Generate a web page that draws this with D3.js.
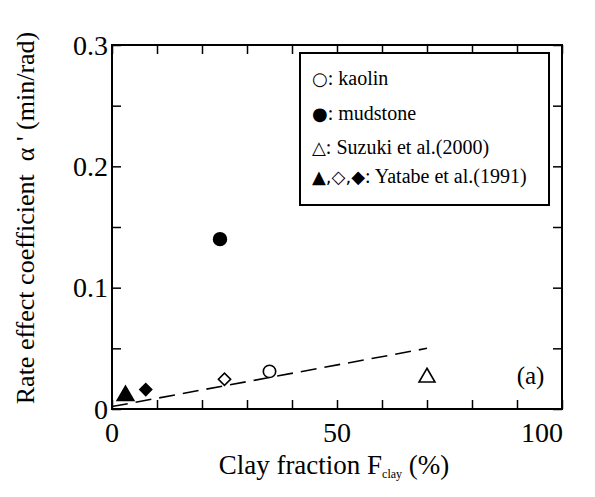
<!DOCTYPE html>
<html>
<head>
<meta charset="utf-8">
<script src="https://cdn.jsdelivr.net/npm/d3@7"></script>
<style>
  body { margin: 0; background: #fff; }
</style>
</head>
<body>
<svg id="chart" width="595" height="497" font-family="Liberation Serif"></svg>
<script>
// data
var xTicks = [0, 50, 100]
var yTicks = [0, 0.1, 0.2, 0.3]
var xMinor = d3.range(0, 101, 10)
var yMinor = [0, 0.05, 0.1, 0.15, 0.2, 0.25, 0.3]

var kaolin = [{x: 35, y: 0.031}]
var mudstone = [{x: 24, y: 0.14}]
var suzuki = [{x: 70, y: 0.026}]
var yatabeTri = [{x: 3, y: 0.011}]
var yatabeOpenDia = [{x: 25, y: 0.0245}]
var yatabeDia = [{x: 7.5, y: 0.016}]
var trend = [{x: 0, y: 0.002}, {x: 70, y: 0.05}]

var legendItems = [
    {sym: "○", label: ": kaolin"},
    {sym: "●", label: ": mudstone"},
    {sym: "△", label: ": Suzuki et al.(2000)"},
    {sym: "▲,◇,◆", label: ": Yatabe et al.(1991)"}
]

var margin = {left: 112, top: 45, right: 33, bottom: 88}
var width = 595 - margin.left - margin.right,
    height = 497 - margin.top - margin.bottom

var svg = d3.select("#chart")
var g = svg.append("g").attr("transform", "translate(" + margin.left + "," + margin.top + ")")

var x = d3.scaleLinear().domain([0, 100]).range([0, width])
var y = d3.scaleLinear().domain([0, 0.3]).range([height, 0])

// frame
g.append("rect")
    .attr("width", width).attr("height", height)
    .attr("fill", "none").attr("stroke", "#000").attr("stroke-width", 2)

// inward ticks on all four sides
var tk = 9
g.append("g").attr("transform", "translate(0," + height + ")")
    .call(d3.axisTop(x).tickValues(xMinor).tickSize(tk).tickFormat(""))
g.append("g")
    .call(d3.axisBottom(x).tickValues(xMinor).tickSize(tk).tickFormat(""))
g.append("g")
    .call(d3.axisRight(y).tickValues(yMinor).tickSize(tk).tickFormat(""))
g.append("g").attr("transform", "translate(" + width + ",0)")
    .call(d3.axisLeft(y).tickValues(yMinor).tickSize(tk).tickFormat(""))
g.selectAll(".domain").remove()
g.selectAll(".tick line").attr("stroke", "#000").attr("stroke-width", 1.5)

// tick labels (the last x label is pulled in to stay inside the page)
g.selectAll(".xlab").data(xTicks).enter().append("text")
    .attr("x", d => x(d)).attr("y", height + 33)
    .attr("dx", d => d === 100 ? -20 : 0)
    .attr("text-anchor", "middle").attr("font-size", 28)
    .text(d => d)
g.selectAll(".ylab").data(yTicks).enter().append("text")
    .attr("x", -4).attr("y", d => y(d)).attr("dy", "0.35em")
    .attr("text-anchor", "end").attr("font-size", 28)
    .text(d => d)

// axis titles
var xt = svg.append("text")
    .attr("x", 334).attr("y", 474)
    .attr("text-anchor", "middle").attr("font-size", 27)
xt.append("tspan").text("Clay fraction F")
xt.append("tspan").attr("dy", 4).attr("font-size", 12).text("clay")
xt.append("tspan").attr("dy", -4).text(" (%)")

svg.append("text")
    .attr("transform", "translate(34,218) rotate(-90)")
    .attr("text-anchor", "middle").attr("font-size", 26)
    .text("Rate effect coefficient\u00a0\u00a0α\u00a0' (min/rad)")

// trend line
g.append("path").datum(trend)
    .attr("d", d3.line().x(d => x(d.x)).y(d => y(d.y)))
    .attr("fill", "none").attr("stroke", "#000").attr("stroke-width", 1.6)
    .attr("stroke-dasharray", "16,8")

// markers
function drawMarks(data, type, size, filled, rot) {
    g.selectAll(null).data(data).enter().append("path")
        .attr("transform", d => "translate(" + x(d.x) + "," + y(d.y) + ")" + (rot ? " rotate(45)" : ""))
        .attr("d", d3.symbol().type(type).size(size))
        .attr("fill", filled ? "#000" : "#fff")
        .attr("stroke", "#000").attr("stroke-width", 1.6)
}
drawMarks(kaolin, d3.symbolCircle, 120, false)
drawMarks(mudstone, d3.symbolCircle, 130, true)
drawMarks(suzuki, d3.symbolTriangle, 110, false)
drawMarks(yatabeTri, d3.symbolTriangle, 120, true)
drawMarks(yatabeOpenDia, d3.symbolSquare, 75, false, true)
drawMarks(yatabeDia, d3.symbolSquare, 70, true, true)

// panel label
g.append("text").attr("x", x(93)).attr("y", y(0.028)).attr("dy", "0.35em")
    .attr("text-anchor", "middle").attr("font-size", 25).text("(a)")

// legend
var leg = svg.append("g")
leg.append("rect")
    .attr("x", 300).attr("y", 53).attr("width", 249).attr("height", 152)
    .attr("fill", "#fff").attr("stroke", "#000").attr("stroke-width", 2)
var legY = [78, 113, 147, 176]
legendItems.forEach(function(d, i) {
    var t = leg.append("text").attr("x", 312).attr("y", legY[i]).attr("dy", "0.35em")
        .attr("font-size", 20)
    t.append("tspan").attr("font-family", "DejaVu Sans").attr("font-size", 18).text(d.sym)
    t.append("tspan").text(d.label)
})
</script>
</body>
</html>
